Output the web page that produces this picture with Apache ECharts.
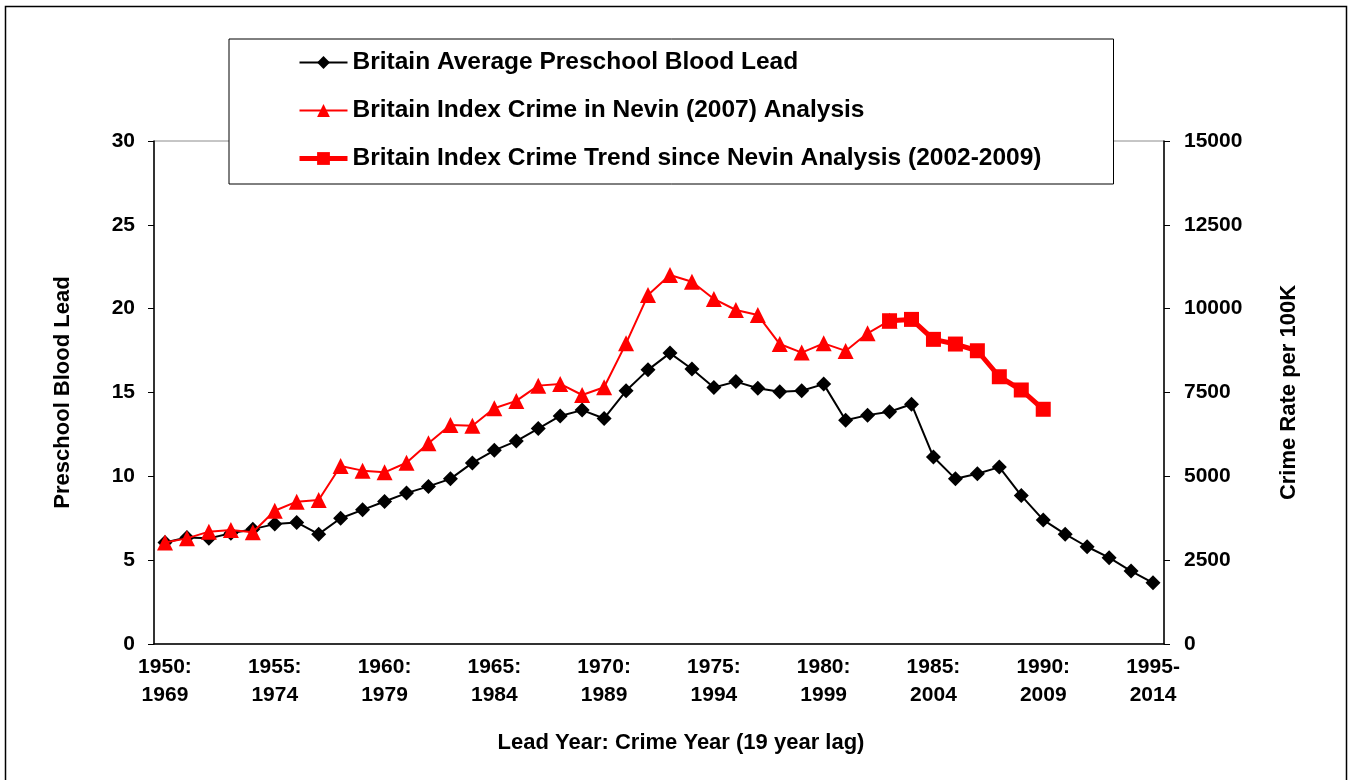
<!DOCTYPE html>
<html>
<head>
<meta charset="utf-8">
<script src="https://cdn.jsdelivr.net/npm/echarts@6/dist/echarts.min.js"></script>
<style>
  html, body { margin: 0; padding: 0; background: #fff; }
  #chart { width: 1348px; height: 780px; }
</style>
</head>
<body>
<div id="chart"></div>
<script>
// lead year : crime year (19 year lag)
const categories = [
  "1950:\n1969", "1951:\n1970", "1952:\n1971", "1953:\n1972", "1954:\n1973",
  "1955:\n1974", "1956:\n1975", "1957:\n1976", "1958:\n1977", "1959:\n1978",
  "1960:\n1979", "1961:\n1980", "1962:\n1981", "1963:\n1982", "1964:\n1983",
  "1965:\n1984", "1966:\n1985", "1967:\n1986", "1968:\n1987", "1969:\n1988",
  "1970:\n1989", "1971:\n1990", "1972:\n1991", "1973:\n1992", "1974:\n1993",
  "1975:\n1994", "1976:\n1995", "1977:\n1996", "1978:\n1997", "1979:\n1998",
  "1980:\n1999", "1981:\n2000", "1982:\n2001", "1983:\n2002", "1984:\n2003",
  "1985:\n2004", "1986:\n2005", "1987:\n2006", "1988:\n2007", "1989:\n2008",
  "1990:\n2009", "1991:\n2010", "1992:\n2011", "1993:\n2012", "1994:\n2013",
  "1995-\n2014"
];

// preschool blood lead (left axis)
const bloodLead = [
  6.05, 6.35, 6.3, 6.6, 6.85, 7.15, 7.25, 6.55, 7.5, 8.0,
  8.5, 9.0, 9.4, 9.85, 10.8, 11.55, 12.1, 12.85, 13.6, 13.95,
  13.45, 15.1, 16.35, 17.35, 16.4, 15.3, 15.65, 15.25, 15.05, 15.1,
  15.5, 13.35, 13.65, 13.85, 14.3, 11.15, 9.85, 10.15, 10.55, 8.85,
  7.4, 6.55, 5.8, 5.15, 4.35, 3.65
];

// index crime, Nevin (2007) analysis (right axis), lead years 1950-1983
const crimeNevin = [
  3030, 3150, 3350, 3400, 3330, 3975, 4245, 4295, 5310, 5170,
  5120, 5405, 5985, 6530, 6510, 7030, 7250, 7705, 7755, 7425,
  7655, 8965, 10405, 11005, 10805, 10290, 9960, 9810, 8945, 8690,
  8965, 8740, 9265, 9640
];

// index crime trend since Nevin, lead years 1983-1990
const crimeTrend = [9640, 9680, 9085, 8945, 8745, 7970, 7575, 7000];
const trendStart = 33;

const leftTicks = { min: 0, max: 30, interval: 5 };
const rightTicks = { min: 0, max: 15000, interval: 2500 };

const seriesNames = [
  "Britain Average Preschool Blood Lead",
  "Britain Index Crime in Nevin (2007) Analysis",
  "Britain Index Crime Trend since Nevin Analysis (2002-2009)"
];

function padTo(arr, start, len) {
  let out = [];
  for (let i = 0; i < len; i++) {
    let j = i - start;
    out.push(j >= 0 && j < arr.length ? arr[j] : null);
  }
  return out;
}

const font = "'Liberation Sans', Arial, sans-serif";
const boldText = { color: "#000", fontFamily: font, fontWeight: "bold", fontSize: 21 };

let chart = echarts.init(document.getElementById("chart"));
let option = {
  backgroundColor: "#fff",
  animation: false,
  textStyle: { fontFamily: font },
  grid: {
    left: 154, right: 184, top: 141, bottom: 136,
    show: true, borderColor: "#8c8c8c", borderWidth: 1, backgroundColor: "#fff"
  },
  legend: {
    orient: "vertical",
    left: 229, top: 39,
    padding: [11, 72, 13, 68],
    itemGap: 23,
    itemWidth: 48, itemHeight: 16,
    backgroundColor: "#fff",
    borderColor: "#000", borderWidth: 1,
    selectedMode: false,
    textStyle: Object.assign({}, boldText, { fontSize: 24.5, lineHeight: 24 }),
    data: [
      { name: seriesNames[0], lineStyle: { width: 2 } },
      { name: seriesNames[1], lineStyle: { width: 2 } },
      { name: seriesNames[2], lineStyle: { width: 5 } }
    ]
  },
  graphic: [{
    type: "rect",
    shape: { x: 5.5, y: 6.5, width: 1341, height: 800 },
    style: { fill: "none", stroke: "#000", lineWidth: 1.5 },
    silent: true
  }],
  xAxis: {
    type: "category",
    data: categories,
    boundaryGap: true,
    name: "Lead Year: Crime Year (19 year lag)",
    nameLocation: "middle",
    nameGap: 88,
    nameTextStyle: Object.assign({}, boldText, { fontSize: 22, padding: [0, 0, 0, 44] }),
    axisLine: { lineStyle: { color: "#000", width: 1.5 } },
    axisTick: { interval: 4, length: 6, lineStyle: { color: "#000" } },
    axisLabel: Object.assign({}, boldText, { interval: 4, lineHeight: 28, margin: 9 }),
    splitLine: { show: false }
  },
  yAxis: [
    {
      type: "value",
      min: leftTicks.min, max: leftTicks.max, interval: leftTicks.interval,
      name: "Preschool Blood Lead",
      nameLocation: "middle",
      nameGap: 80,
      nameRotate: 90,
      nameTextStyle: Object.assign({}, boldText, { fontSize: 22 }),
      axisLine: { show: true, lineStyle: { color: "#000", width: 1.5 } },
      axisTick: { show: true, length: 6, lineStyle: { color: "#000" } },
      axisLabel: Object.assign({}, boldText, { margin: 19 }),
      splitLine: { show: false }
    },
    {
      type: "value",
      position: "right",
      min: rightTicks.min, max: rightTicks.max, interval: rightTicks.interval,
      name: "Crime Rate per 100K",
      nameLocation: "middle",
      nameGap: 114,
      nameRotate: 90,
      nameTextStyle: Object.assign({}, boldText, { fontSize: 22 }),
      axisLine: { show: true, lineStyle: { color: "#000", width: 1.5 } },
      axisTick: { show: true, length: 6, lineStyle: { color: "#000" } },
      axisLabel: Object.assign({}, boldText, {
        margin: 20,
        formatter: function (v) { return String(v); }
      }),
      splitLine: { show: false }
    }
  ],
  series: [
    {
      name: seriesNames[0],
      type: "line",
      yAxisIndex: 0,
      data: bloodLead,
      symbol: "diamond",
      symbolSize: 15,
      showAllSymbol: true,
      lineStyle: { color: "#000", width: 2 },
      itemStyle: { color: "#000" },
      z: 3
    },
    {
      name: seriesNames[1],
      type: "line",
      yAxisIndex: 1,
      data: padTo(crimeNevin, 0, categories.length),
      symbol: "triangle",
      symbolSize: 16,
      showAllSymbol: true,
      lineStyle: { color: "#ff0000", width: 2 },
      itemStyle: { color: "#ff0000" },
      z: 4
    },
    {
      name: seriesNames[2],
      type: "line",
      yAxisIndex: 1,
      data: padTo(crimeTrend, trendStart, categories.length),
      symbol: "rect",
      symbolSize: 15,
      showAllSymbol: true,
      lineStyle: { color: "#ff0000", width: 5 },
      itemStyle: { color: "#ff0000" },
      z: 5
    }
  ]
};
chart.setOption(option);
</script>
</body>
</html>
